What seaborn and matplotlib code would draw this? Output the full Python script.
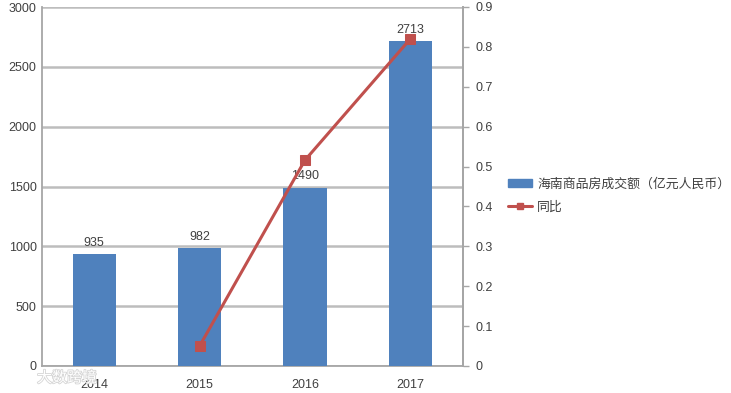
# -*- coding: utf-8 -*-
import numpy as np
import pandas as pd
import matplotlib
matplotlib.use('Agg')
import matplotlib.pyplot as plt
import matplotlib.patheffects as pe
import seaborn as sns
from matplotlib.lines import Line2D
from matplotlib.patches import Patch

years = ['2014', '2015', '2016', '2017']
volume = [935, 982, 1490, 2713]
yoy = [np.nan, 0.05, 0.516, 0.82]
bar_name = '海南商品房成交额（亿元人民币）'
line_name = '同比'

sns.set_theme(style='white')
plt.rcParams['font.family'] = ['Liberation Sans', 'Noto Sans CJK SC', 'DejaVu Sans']

df = pd.DataFrame({'year': years, 'volume': volume, 'yoy': yoy})

W, H = 731, 393
fig = plt.figure(figsize=(W / 100, H / 100), dpi=100)
ax = fig.add_axes([41.5 / W, 1 - 366 / H, 421.5 / W, 359 / H])

sns.barplot(data=df, x='year', y='volume', color='#4F81BD', saturation=1,
            width=0.41, linewidth=0, ax=ax, zorder=3)
ax.set_ylim(0, 3000)
ax.set_yticks(range(0, 3001, 500))
ax.set_xlabel('')
ax.set_ylabel('')
ax.grid(axis='y', color='#BDBDBD', lw=1.8, zorder=0)
ax.set_axisbelow(True)
ax.tick_params(axis='both', labelsize=9, colors='#404040', length=0)
ax.tick_params(axis='x', pad=9)
for s in ['top', 'right', 'left', 'bottom']:
    ax.spines[s].set_color('#A6A6A6')
    ax.spines[s].set_linewidth(1.3)
ax.spines['top'].set_visible(False)

for i, v in enumerate(volume):
    ax.text(i, v + 45, str(v), ha='center', va='bottom', fontsize=9, color='#404040', zorder=6)

ax2 = ax.twinx()
sns.lineplot(data=df, x='year', y='yoy', color='#C0504D', lw=2.2, marker='s',
             markersize=7, markeredgecolor='#C0504D', ax=ax2, zorder=5)
ax2.set_xlim(-0.5, 3.5)
ax2.set_ylim(0, 0.9)
ax2.set_yticks(np.arange(0, 0.91, 0.1))
ax2.set_yticklabels(['0', '0.1', '0.2', '0.3', '0.4', '0.5', '0.6', '0.7', '0.8', '0.9'])
ax2.set_xlabel('')
ax2.set_ylabel('')
ax2.grid(False)
ax2.tick_params(axis='y', labelsize=9, labelcolor='#404040', length=4, width=1, color='#A6A6A6', pad=5)
for s in ['top', 'left', 'bottom']:
    ax2.spines[s].set_visible(False)
ax2.spines['right'].set_color('#A6A6A6')
ax2.spines['right'].set_linewidth(1.3)

# small ticks between the categories
ax.set_xticks([0.5, 1.5, 2.5], minor=True)
ax.tick_params(axis='x', which='minor', length=3, width=1, color='#A6A6A6')

handles = [Patch(color='#4F81BD'),
           Line2D([], [], color='#C0504D', lw=2.2, marker='s', markersize=5)]
fig.legend(handles, [bar_name, line_name], loc='center left',
           bbox_to_anchor=(496 / W, 1 - 196 / H), frameon=False, fontsize=9.3,
           labelcolor='#404040', handlelength=1.9, handleheight=0.6,
           handletextpad=0.4, labelspacing=0.8)

# watermark
wm = fig.text(37 / W, 1 - 378 / H, '大数跨境', fontsize=10.8, color='white',
              ha='left', va='center', zorder=10)
wm.set_path_effects([pe.withStroke(linewidth=1.2, foreground='#D5D5D5')])

fig.savefig('out.png', dpi=100)
